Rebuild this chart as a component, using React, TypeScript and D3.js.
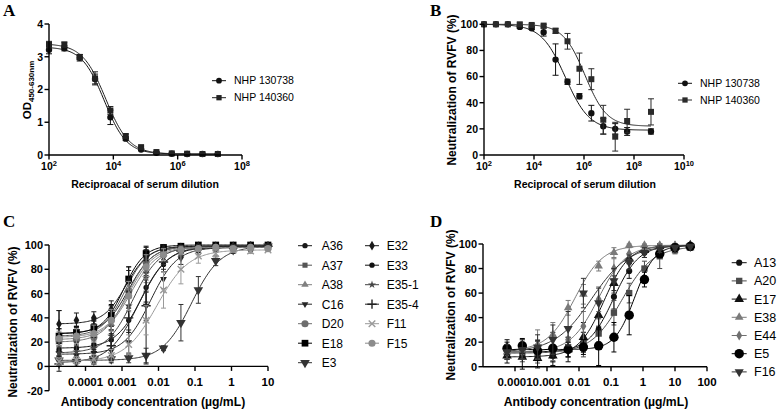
import * as d3 from "d3"
import { useEffect, useRef } from "react"

const SANS = "'Liberation Sans', Arial, sans-serif"
const SERIF = "'Liberation Serif', 'Times New Roman', serif"

// A: OD450-630nm of NHP sera, 3-fold dilutions
const dilutionA = [100, 300, 900, 2700, 8100, 24300, 72900, 218700, 656100, 1968300, 5904900, 17714700]
const odNhp130738 = [3.21, 3.26, 2.97, 2.32, 1.15, 0.5, 0.17, 0.07, 0.04, 0.03, 0.03, 0.03]
const odNhp130738Sd = [0.12, 0.08, 0.1, 0.15, 0.22, 0.06, 0.03, 0.02, 0.01, 0.01, 0.01, 0.01]
const odNhp140360 = [3.37, 3.37, 2.99, 2.34, 1.36, 0.58, 0.24, 0.09, 0.05, 0.04, 0.03, 0.03]
const odNhp140360Sd = [0.1, 0.08, 0.08, 0.2, 0.12, 0.06, 0.03, 0.02, 0.01, 0.01, 0.01, 0.01]
// 4PL fits: bottom, top, EC50, Hill (negative = decreasing)
const fitA130738 = [0.03, 3.3, 5200, -1.25]
const fitA140360 = [0.03, 3.4, 5800, -1.2]

// B: neutralization by NHP sera
const dilutionB = [100, 300, 900, 2700, 8100, 24300, 72900, 218700, 656100, 1968300, 5904900, 17714700, 53144100, 478296900]
const neutNhp130738 = [100, 100, 100, 98, 97, 94, 73, 56, 45, 32, 22, 20, 18, 18]
const neutNhp130738Sd = [0, 0, 0, 1, 1, 3, 12, 2, 2, 6, 6, 4, 3, 2]
const neutNhp140360 = [100, 100, 100, 100, 99.5, 99, 95, 87, 66, 58, 27, 14, 26, 33]
const neutNhp140360Sd = [0, 0, 0, 1, 1, 1, 2, 6, 12, 8, 11, 11, 9, 10]
const fitB130738 = [19, 100, 180000, -0.9]
const fitB140360 = [22, 100, 1100000, -1.0]

// C: mAb neutralization, 3-fold from 10 µg/mL
const concC = [10, 3.333, 1.111, 0.3704, 0.1235, 0.04115, 0.01372, 0.004572, 0.001524, 0.000508, 0.0001694, 0.00005645, 0.00001882]
const a36 = [99, 100, 99, 99, 98, 98, 96, 83, 60, 42, 33, 28, 26]
const a37 = [99, 99, 100, 99, 99, 98, 97, 88, 70, 40, 30, 27, 25]
const a38 = [98, 97, 98, 98, 97, 95, 93, 79, 58, 35, 27, 24, 20]
const c16 = [98, 98, 97, 96, 95, 89, 72, 50, 20, 13, 11, 9, 11]
const d20 = [99, 99, 98, 99, 98, 97, 94, 86, 62, 38, 24, 22, 21]
const e18 = [100, 100, 100, 100, 100, 99, 98, 93, 72, 42, 32, 28, 25]
const e3 = [99, 97, 96, 87, 63, 36, 15, 9, 7, 6, 5, 4, 5]
const e32 = [99, 99, 99, 99, 99, 98, 97, 90, 70, 47, 40, 38, 35]
const e33 = [98, 97, 98, 97, 96, 94, 84, 65, 38, 22, 18, 15, 14]
const e35_1 = [99, 98, 99, 98, 98, 96, 90, 73, 50, 25, 15, 12, 11]
const e35_4 = [99, 99, 98, 98, 97, 95, 86, 50, 40, 17, 8, 4, 2]
const f11 = [96, 95, 96, 93, 91, 80, 63, 38, 18, 9, 6, 5, 4]
const f15 = [97, 98, 97, 98, 97, 96, 92, 82, 58, 38, 27, 25, 23]

const a36Sd = [1, 1, 1, 1, 2, 2, 4, 8, 10, 8, 6, 5, 20]
const a37Sd = [1, 1, 1, 1, 1, 2, 3, 8, 12, 10, 7, 6, 6]
const a38Sd = [1, 2, 1, 2, 2, 3, 5, 10, 13, 9, 8, 6, 7]
const c16Sd = [1, 1, 2, 2, 3, 5, 8, 12, 10, 8, 6, 5, 6]
const d20Sd = [1, 1, 1, 1, 2, 2, 4, 9, 12, 8, 7, 6, 5]
const e18Sd = [0, 0, 1, 1, 1, 1, 2, 6, 10, 9, 6, 5, 6]
const e3Sd = [1, 2, 3, 4, 11, 15, 2, 6, 4, 3, 3, 4, 4]
const e32Sd = [1, 1, 1, 1, 1, 2, 3, 6, 9, 7, 5, 6, 11]
const e33Sd = [1, 1, 1, 2, 2, 3, 6, 12, 10, 8, 6, 5, 6]
const e35_1Sd = [1, 1, 1, 2, 2, 3, 6, 12, 11, 8, 6, 5, 5]
const e35_4Sd = [1, 1, 1, 2, 2, 4, 8, 48, 20, 10, 6, 4, 6]
const f11Sd = [1, 2, 2, 3, 6, 12, 15, 12, 8, 5, 4, 3, 3]
const f15Sd = [1, 1, 1, 1, 2, 3, 5, 10, 12, 9, 7, 6, 6]

const fitsC = [
  [27, 99, 0.0015, 1.3],
  [25, 99, 0.0012, 1.4],
  [22, 98, 0.0017, 1.2],
  [10, 98, 0.006, 1.2],
  [20, 99, 0.0014, 1.3],
  [27, 100, 0.0011, 1.5],
  [5, 99, 0.08, 1.1],
  [35, 99, 0.0013, 1.4],
  [15, 98, 0.0035, 1.2],
  [11, 99, 0.002, 1.2],
  [3, 99, 0.0028, 1.1],
  [4, 96, 0.009, 1.0],
  [24, 98, 0.0016, 1.3],
]

// D: second mAb panel, 3-fold from 30 µg/mL
const concD = [30, 10, 3.333, 1.111, 0.3704, 0.1235, 0.04115, 0.01372, 0.004572, 0.001524, 0.000508, 0.0001694, 0.00005645]
const a13 = [99, 98, 97, 93, 78, 57, 30, 20, 14, 16, 13, 12, 14]
const a20 = [97, 95, 90, 80, 60, 44, 27, 18, 16, 10, 8, 10, 12]
const e17 = [99, 98, 98, 95, 88, 68, 42, 24, 14, 9, 7, 8, 9]
const e38 = [97, 99, 99, 99, 99, 93, 82, 59, 48, 26, 18, 14, 12]
const e44 = [98, 98, 97, 96, 92, 80, 55, 33, 22, 15, 14, 12, 11]
const e5 = [98, 97, 92, 71, 42, 24, 17, 16, 14, 15, 13, 17, 15]
const f16 = [98, 97, 96, 93, 85, 70, 52, 60, 31, 22, 16, 14, 12]

const a13Sd = [1, 2, 3, 4, 6, 10, 10, 8, 6, 12, 8, 6, 8]
const a20Sd = [2, 3, 10, 6, 8, 10, 12, 10, 8, 6, 5, 6, 5]
const e17Sd = [1, 2, 2, 3, 4, 6, 10, 12, 10, 8, 8, 10, 6]
const e38Sd = [1, 1, 1, 1, 1, 4, 4, 8, 6, 10, 12, 8, 6]
const e44Sd = [1, 2, 2, 3, 5, 8, 10, 12, 10, 10, 8, 6, 5]
const e5Sd = [1, 2, 3, 6, 16, 12, 16, 6, 6, 8, 8, 6, 5]
const f16Sd = [1, 2, 3, 4, 6, 10, 12, 12, 14, 12, 10, 8, 6]

const fitsD = [
  [12, 99, 0.12, 1.1],
  [11, 98, 0.22, 0.9],
  [8, 99, 0.06, 1.1],
  [13, 99, 0.0075, 1.0],
  [12, 99, 0.04, 1.0],
  [14, 99, 0.55, 1.4],
  [12, 99, 0.025, 0.75],
]

const namesC = ["A36", "A37", "A38", "C16", "D20", "E18", "E3", "E32", "E33", "E35-1", "E35-4", "F11", "F15"]
const valuesC = [a36, a37, a38, c16, d20, e18, e3, e32, e33, e35_1, e35_4, f11, f15]
const sdC = [a36Sd, a37Sd, a38Sd, c16Sd, d20Sd, e18Sd, e3Sd, e32Sd, e33Sd, e35_1Sd, e35_4Sd, f11Sd, f15Sd]
const markersC = ["circle", "square", "triangle", "down", "circle", "square", "down", "diamond", "circle", "star", "plus", "times", "circle"]
const sizesC = [22, 26, 24, 20, 40, 45, 40, 28, 22, 20, 30, 30, 40]
const coloursC = ["#1a1a1a", "#555", "#808080", "#262626", "#6e6e6e", "#000", "#333", "#1a1a1a", "#111", "#444", "#222", "#9a9a9a", "#8c8c8c"]

const namesD = ["A13", "A20", "E17", "E38", "E44", "E5", "F16"]
const valuesD = [a13, a20, e17, e38, e44, e5, f16]
const sdD = [a13Sd, a20Sd, e17Sd, e38Sd, e44Sd, e5Sd, f16Sd]
const markersD = ["circle", "square", "triangle", "triangle", "diamond", "circle", "down"]
const sizesD = [30, 40, 40, 32, 30, 70, 36]
const coloursD = ["#111", "#4a4a4a", "#111", "#7a7a7a", "#707070", "#000", "#333"]

const symbols = {
  circle: d3.symbolCircle,
  square: d3.symbolSquare,
  triangle: d3.symbolTriangle,
  down: d3.symbolTriangle,
  diamond: d3.symbolDiamond,
  star: d3.symbolStar,
  plus: d3.symbolPlus,
  times: d3.symbolTimes,
}

const logistic = (fit, x) => {
  const [b, t, ec, h] = fit
  return b + (t - b) / (1 + Math.pow(ec / x, h))
}

const marker = (g, kind, size, colour, cx, cy) => {
  const stroked = kind === "plus" || kind === "times"
  g.append("path")
    .attr("d", d3.symbol(symbols[kind], size)())
    .attr("transform", `translate(${cx},${cy})${kind === "down" ? " rotate(180)" : ""}`)
    .attr("fill", stroked ? "none" : colour)
    .attr("stroke", stroked ? colour : "none")
    .attr("stroke-width", 1.4)
}

const drawSeries = (g, x, y, xs, ys, sd, fit, kind, size, colour, cap) => {
  const lo = d3.min(xs)
  const hi = d3.max(xs)
  const n = 160
  const pts = d3.range(n + 1).map((i) => {
    const c = lo * Math.pow(hi / lo, i / n)
    return [x(c), y(logistic(fit, c))]
  })
  g.append("path")
    .attr("d", d3.line()(pts))
    .attr("fill", "none")
    .attr("stroke", colour)
    .attr("stroke-width", 1)

  xs.forEach((c, i) => {
    const cx = x(c)
    const y1 = y(ys[i] - sd[i])
    const y2 = y(ys[i] + sd[i])
    if (sd[i] > 0) {
      g.append("path")
        .attr("d", `M${cx},${y1}V${y2}M${cx - cap},${y1}H${cx + cap}M${cx - cap},${y2}H${cx + cap}`)
        .attr("fill", "none")
        .attr("stroke", colour)
        .attr("stroke-width", 1)
    }
  })
  xs.forEach((c, i) => marker(g, kind, size, colour, x(c), y(ys[i])))
}

const boldText = (g, size) =>
  g.append("text").attr("font-family", SANS).attr("font-weight", "bold").attr("font-size", size).attr("fill", "#000")

const yAxis = (g, y, ticks, x0, fontSize) => {
  const [r0, r1] = y.range()
  g.append("line").attr("x1", x0).attr("x2", x0).attr("y1", r0).attr("y2", r1).attr("stroke", "#000").attr("stroke-width", 1.4)
  ticks.forEach((t) => {
    g.append("line").attr("x1", x0 - 4.5).attr("x2", x0).attr("y1", y(t)).attr("y2", y(t)).attr("stroke", "#000").attr("stroke-width", 1.4)
    boldText(g, fontSize).attr("x", x0 - 6).attr("y", y(t) + fontSize * 0.36).attr("text-anchor", "end").text(t)
  })
}

const xAxis = (g, x, ticks, y0, labelY, fontSize, label) => {
  const [r0, r1] = x.range()
  g.append("line").attr("x1", r0).attr("x2", r1).attr("y1", y0).attr("y2", y0).attr("stroke", "#000").attr("stroke-width", 1.4)
  ticks.forEach((t) => {
    g.append("line").attr("x1", x(t)).attr("x2", x(t)).attr("y1", y0).attr("y2", y0 + 4.5).attr("stroke", "#000").attr("stroke-width", 1.4)
    label(boldText(g, fontSize).attr("x", x(t)).attr("y", labelY).attr("text-anchor", "middle"), t)
  })
}

const powerLabel = (text, t) => {
  text.append("tspan").text("10")
  text.append("tspan").attr("dy", -4.5).attr("font-size", 7.5).text(Math.round(Math.log10(t)))
}

const yTitle = (g, cx, cy, s) =>
  boldText(g, 12).attr("transform", `translate(${cx},${cy}) rotate(-90)`).attr("text-anchor", "middle").text(s)

const panelLetter = (g, x, y, s) =>
  g.append("text").attr("x", x).attr("y", y).attr("font-family", SERIF).attr("font-weight", "bold").attr("font-size", 17).text(s)

const legendRow = (g, x0, x1, tx, cy, kind, size, colour, s, fontSize) => {
  g.append("line").attr("x1", x0).attr("x2", x1).attr("y1", cy).attr("y2", cy).attr("stroke", colour).attr("stroke-width", 1)
  marker(g, kind, size, colour, (x0 + x1) / 2, cy)
  g.append("text").attr("x", tx).attr("y", cy + fontSize * 0.36).attr("font-family", SANS).attr("font-size", fontSize).attr("fill", "#000").text(s)
}

const drawA = (svg) => {
  const g = svg.append("g")
  const x = d3.scaleLog().domain([1e2, 1e8]).range([49, 242])
  const y = d3.scaleLinear().domain([0, 4]).range([155, 24])
  panelLetter(g, 3, 16, "A")
  drawSeries(g, x, y, dilutionA, odNhp130738, odNhp130738Sd, fitA130738, "circle", 32, "#111", 3)
  drawSeries(g, x, y, dilutionA, odNhp140360, odNhp140360Sd, fitA140360, "square", 36, "#222", 3)
  yAxis(g, y, [0, 1, 2, 3, 4], 49, 10.5)
  xAxis(g, x, [1e2, 1e4, 1e6, 1e8], 155, 170, 10.5, powerLabel)
  const t = boldText(g, 11.5).attr("transform", "translate(31,90) rotate(-90)").attr("text-anchor", "middle")
  t.append("tspan").text("OD")
  t.append("tspan").attr("dy", 3).attr("font-size", 8).text("450-630nm")
  boldText(g, 10.5).attr("x", 145).attr("y", 188).attr("text-anchor", "middle").text("Reciproacal of serum dilution")
  legendRow(g, 212, 226, 234, 80.7, "circle", 26, "#111", "NHP 130738", 10.5)
  legendRow(g, 212, 226, 234, 97.7, "square", 28, "#222", "NHP 140360", 10.5)
}

const drawB = (svg) => {
  const g = svg.append("g")
  const x = d3.scaleLog().domain([1e2, 1e10]).range([484, 684])
  const y = d3.scaleLinear().domain([0, 100]).range([155, 24.3])
  panelLetter(g, 430, 16, "B")
  drawSeries(g, x, y, dilutionB, neutNhp130738, neutNhp130738Sd, fitB130738, "circle", 32, "#111", 3)
  drawSeries(g, x, y, dilutionB, neutNhp140360, neutNhp140360Sd, fitB140360, "square", 36, "#2a2a2a", 3)
  yAxis(g, y, [0, 20, 40, 60, 80, 100], 484, 10.5)
  xAxis(g, x, [1e2, 1e4, 1e6, 1e8, 1e10], 155, 170, 10.5, powerLabel)
  yTitle(g, 456, 90, "Neutralization of RVFV (%)")
  boldText(g, 10.5).attr("x", 585).attr("y", 188).attr("text-anchor", "middle").text("Reciprocal of serum dilution")
  legendRow(g, 678, 692, 700, 83.3, "circle", 26, "#111", "NHP 130738", 10.5)
  legendRow(g, 678, 692, 700, 100, "square", 28, "#2a2a2a", "NHP 140360", 10.5)
}

const concLabel = (text, t) => text.text(t < 0.001 ? "0.0001" : String(t))

const drawC = (svg) => {
  const g = svg.append("g")
  const x = d3.scaleLog().domain([1e-5, 10]).range([49, 268])
  const y = d3.scaleLinear().domain([-20, 100]).range([390.7, 245])
  panelLetter(g, 3, 227, "C")
  valuesC.forEach((v, i) =>
    drawSeries(g, x, y, concC, v, sdC[i], fitsC[i], markersC[i], sizesC[i], coloursC[i], 2.5)
  )
  yAxis(g, y, [-20, 0, 20, 40, 60, 80, 100], 49, 11)
  xAxis(g, x, [1e-4, 1e-3, 1e-2, 1e-1, 1, 10], y(0), 386, 11.5, concLabel)
  yTitle(g, 17, 322, "Neutralization of RVFV (%)")
  boldText(g, 12.2).attr("x", 153).attr("y", 406).attr("text-anchor", "middle").text("Antibody concentration (µg/mL)")
  namesC.forEach((s, i) => {
    const col = i < 7 ? 0 : 1
    const row = i < 7 ? i : i - 7
    const x0 = col === 0 ? 298 : 365
    const tx = col === 0 ? 321.7 : 386.7
    legendRow(g, x0, x0 + 14, tx, 245.7 + row * 19.5, markersC[i], sizesC[i], coloursC[i], s, 12)
  })
}

const drawD = (svg) => {
  const g = svg.append("g")
  const x = d3.scaleLog().domain([1e-5, 100]).range([483, 707])
  const y = d3.scaleLinear().domain([0, 100]).range([366.7, 244])
  panelLetter(g, 430, 227, "D")
  valuesD.forEach((v, i) =>
    drawSeries(g, x, y, concD, v, sdD[i], fitsD[i], markersD[i], sizesD[i], coloursD[i], 2.5)
  )
  yAxis(g, y, [0, 20, 40, 60, 80, 100], 483, 11)
  xAxis(g, x, [1e-4, 1e-3, 1e-2, 1e-1, 1, 10, 100], 366.7, 386, 11.5, concLabel)
  yTitle(g, 455, 305, "Neutralization of RVFV (%)")
  boldText(g, 12.2).attr("x", 596).attr("y", 406).attr("text-anchor", "middle").text("Antibody concentration (µg/mL)")
  namesD.forEach((s, i) =>
    legendRow(g, 731.7, 746.7, 754, 262.7 + i * 18.2, markersD[i], sizesD[i], coloursD[i], s, 12.5)
  )
}

export default function App() {
  const ref = useRef(null)

  useEffect(() => {
    document.body.style.margin = "0"
    const svg = d3.select(ref.current)
    svg.selectAll("*").remove()
    drawA(svg)
    drawB(svg)
    drawC(svg)
    drawD(svg)
  }, [])

  return <svg ref={ref} width={780} height={412} style={{ display: "block", background: "#fff" }} />
}
